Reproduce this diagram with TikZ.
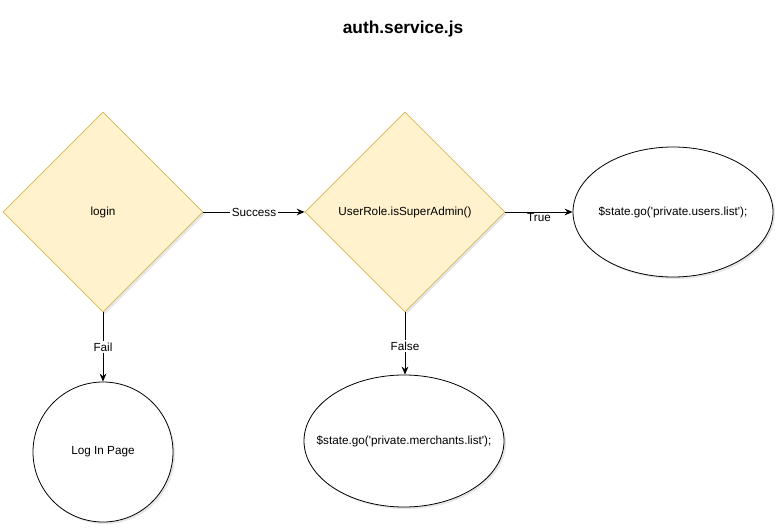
\documentclass[tikz,border=0pt]{standalone}
\usepackage{fontspec}
\setmainfont{Liberation Sans}
\usetikzlibrary{shapes.geometric,arrows.meta,shadows}
\definecolor{decfill}{HTML}{FFF2CC}
\definecolor{decline}{HTML}{D6B656}
\begin{document}
\begin{tikzpicture}[x=0.75pt, y=-0.75pt, font=\fontsize{8.8}{10}\selectfont,
	>={Stealth[length=6pt,width=5pt]},
	shade/.style = {drop shadow={opacity=0.2, shadow xshift=1.5pt, shadow yshift=-1.5pt}},
	dec/.style = {diamond, aspect=1, draw=decline, fill=decfill, line width=0.5pt, minimum size=150pt, inner sep=0pt, shade},
	term/.style = {ellipse, draw, fill=white, line width=0.6pt, inner sep=0pt, shade},
	lbl/.style = {fill=white, inner sep=1pt},
	flow/.style = {->, line width=0.75pt}]
	\useasboundingbox (0,0) rectangle (781,531);
	
	\node[font=\fontsize{13}{15}\selectfont\bfseries] (title) at (403,29) {auth.service.js};
	
	\node[dec] (login) at (103,212) {login};
	\node[dec] (role) at (405,212) {UserRole.isSuperAdmin()};
	
	\node[term, minimum width=150pt, minimum height=97.5pt] (users) at (673,212) {\makebox[0pt]{\$state.go(\textquotesingle private.users.list\textquotesingle);}};
	\node[term, minimum width=150pt, minimum height=99pt] (merch) at (404,441) {\makebox[0pt]{\$state.go(\textquotesingle private.merchants.list\textquotesingle);}};
	\node[term, minimum width=105pt, minimum height=105pt] (page) at (103,452) {\makebox[0pt]{Log In Page}};
	
	
	\draw[flow] (login) -- node[lbl] {Success} (role);
	\draw[flow] (role) -- node[lbl, below] {True} (users);
	\draw[flow] (login) -- node[lbl] {Fail} (page);
	\draw[flow] (role.south) -- node[lbl, yshift=-2pt] {False} (role.south |- merch.north);
	
\end{tikzpicture}
\end{document}
